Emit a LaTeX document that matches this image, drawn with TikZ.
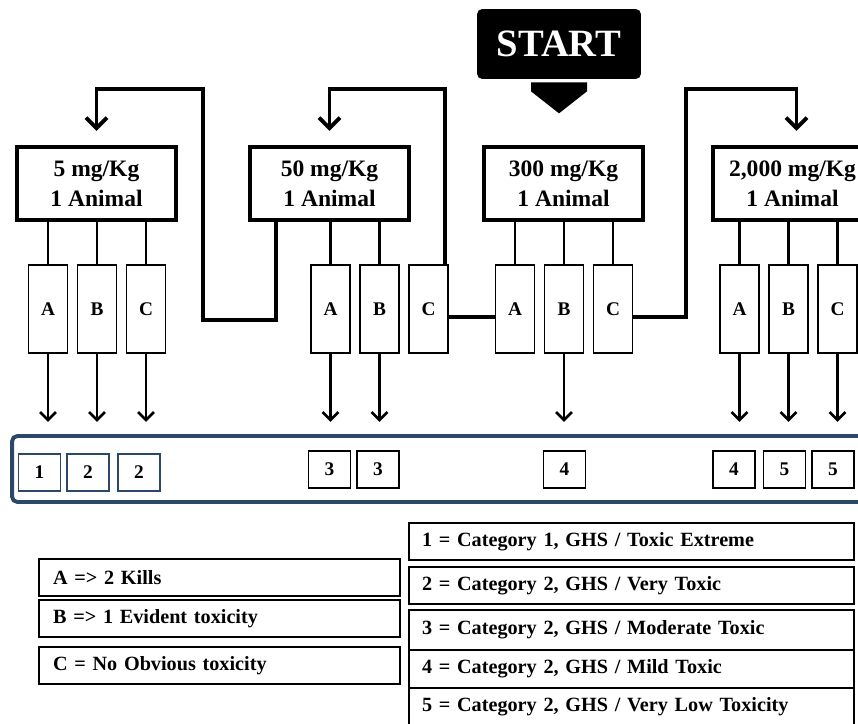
\documentclass[tikz,border=0pt]{standalone}
\usepackage{fontspec}
\setmainfont{Liberation Serif}
\usetikzlibrary{arrows.meta,calc}
\definecolor{frameblue}{RGB}{44,72,105}

\begin{document}
\begin{tikzpicture}[font=\bfseries,
	dose/.style={draw, line width=2.3pt, minimum width=3.18cm, minimum height=1.46cm, align=center, font=\bfseries\fontsize{13.4}{17}\selectfont},
	outcome/.style={draw, line width=.9pt, minimum width=.78cm, minimum height=1.76cm, font=\bfseries\fontsize{11}{13}\selectfont},
	score/.style={draw, line width=1.1pt, minimum width=.84cm, minimum height=.74cm, font=\bfseries\fontsize{11}{13}\selectfont},
	key/.style={draw, line width=1.2pt, anchor=west, align=left, inner ysep=0pt, minimum height=.74cm, font=\bfseries\fontsize{11.5}{14}\selectfont},
	wire/.style={line width=2.2pt},
	route/.style={wire, -{Straight Barb[length=6pt,width=12pt]}, shorten >=8pt},
	leg/.style={line width=1.6pt},
	down/.style={line width=1.5pt, -{Straight Barb[length=4.5pt,width=9pt]}, shorten >=7pt}]
\begin{scope}[x=.02cm,y=-.02cm]
\clip (0,0) rectangle (858,723);
\coordinate (top) at (0,89);

\node[fill=black, rounded corners=3pt, minimum width=3.28cm, minimum height=1.4cm, text=white, font=\bfseries\fontsize{22}{26}\selectfont] (start) at (559,44) {START};
\fill ($(start.south)+(-28,3)$) -- ++(56,0) -- ++(0,9) -- ($(start.south)+(0,34)$) -- ($(start.south)+(-28,12)$) -- cycle;

\node[dose] (d5) at (96.5,183.5) {5 mg/Kg\\1 Animal};
\node[dose] (d50) at (329.5,183.5) {50 mg/Kg\\1 Animal};
\node[dose] (d300) at (563.5,183.5) {300 mg/Kg\\1 Animal};
\node[dose] (d2000) at (792.5,183.5) {2,000 mg/Kg\\1 Animal};

\foreach \d/\b in {5/97,50/379.5,300/564,2000/788.5}{
	\node[outcome] (a\d) at (\b-49,309) {A};
	\node[outcome] (b\d) at (\b,309) {B};
	\node[outcome] (c\d) at (\b+49,309) {C};
}
\foreach \n/\d in {a5/d5,b5/d5,c5/d5,a50/d50,b50/d50,a300/d300,b300/d300,c300/d300,a2000/d2000,b2000/d2000,c2000/d2000}
	\draw[leg] (\n.north) -- (\n.north |- \d.south);

% moving between doses
\draw[route] ($(d50.south west)+(28,0)$) |- (203,320) |- (d5.north |- top) -- (d5.north);
\draw[route] ($(c50.north east)+(-4,0)$) |- (d50.north |- top) -- (d50.north);
\draw[wire] ($(c50.east)+(0,8)$) -- ($(a300.west)+(0,8)$);
\draw[route] ($(c300.east)+(0,8)$) -| (686,89) -- ($(d2000.north |- top)+(4,0)$) -- ($(d2000.north)+(4,0)$);

\node[draw=frameblue, line width=2.2pt, rounded corners=3pt, minimum width=17.16cm, minimum height=1.32cm] (frame) at (441,469) {};
\foreach \n in {a5,b5,c5,a50,b50,b300,a2000,b2000,c2000}
	\draw[down] (\n.south) -- (\n.south |- frame.north);

\node[score, draw=frameblue] (s1) at (39.5,472.5) {1};
\node[score, draw=frameblue] (s2) at (88,472.5) {2};
\node[score, draw=frameblue] (s3) at (139,472.5) {2};
\node[score] (s4) at (329.5,469.5) {3};
\node[score] (s5) at (378,469.5) {3};
\node[score] (s6) at (564.5,469.5) {4};
\node[score] (s7) at (734,469.5) {4};
\node[score] (s8) at (784.5,469.5) {5};
\node[score] (s9) at (833,469.5) {5};

\node[key, text width=6.66cm, inner xsep=.28cm] (kA) at (38,577.5) {A =\textgreater{} 2 Kills};
\node[key, text width=6.66cm, inner xsep=.28cm] (kB) at (38,618.5) {B =\textgreater{} 1 Evident toxicity};
\node[key, text width=6.66cm, inner xsep=.28cm] (kC) at (38,665.5) {C = No Obvious toxicity};

\node[key, text width=8.38cm, inner xsep=.26cm] (g1) at (408,541.5) {1 = Category 1, GHS / Toxic Extreme};
\node[key, text width=8.38cm, inner xsep=.26cm] (g2) at (408,585.5) {2 = Category 2, GHS / Very Toxic};
\node[key, text width=8.38cm, inner xsep=.26cm, minimum height=.8cm] (g3) at (408,630) {3 = Category 2, GHS / Moderate Toxic};
\node[key, text width=8.38cm, inner xsep=.26cm, minimum height=.76cm] (g4) at (408,669) {4 = Category 2, GHS / Mild Toxic};
\node[key, text width=8.38cm, inner xsep=.26cm, minimum height=.76cm] (g5) at (408,707) {5 = Category 2, GHS / Very Low Toxicity};
\end{scope}
\end{tikzpicture}
\end{document}
